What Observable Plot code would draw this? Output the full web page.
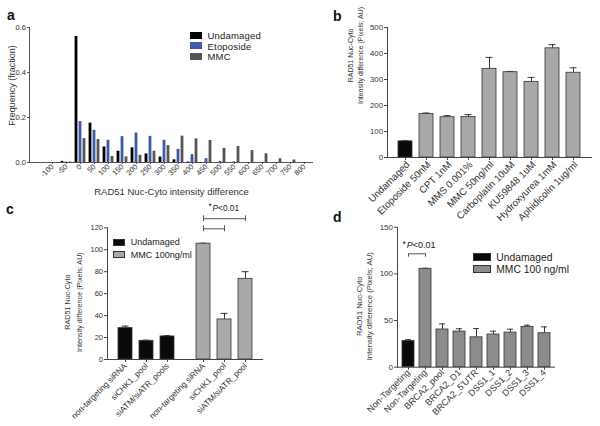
<!DOCTYPE html>
<html>
<head>
<meta charset="utf-8">
<script src="https://cdn.jsdelivr.net/npm/d3@7"></script>
<script src="https://cdn.jsdelivr.net/npm/@observablehq/plot@0.6"></script>
<style>
  body { margin: 0; background: #fff; font-family: "Liberation Sans", Arial, Helvetica, sans-serif; }
  #fig { position: relative; width: 600px; height: 426px; overflow: hidden; background: #fff; }
  .letter { position: absolute; font-weight: bold; font-size: 14px; line-height: 14px; color: #111; }
  .lg-row { position: absolute; display: flex; align-items: center; white-space: nowrap; color: #222; }
  .lg-sw { display: inline-block; box-sizing: border-box; }
</style>
</head>
<body>
<div id="fig"></div>
<script>
// ---------------- Panel a: histogram ----------------
const bins = ["-100","-50","0","50","100","150","200","250","300","350","400","450","500","550","600","650","700","750","800"];
const seriesA = ["Undamaged", "Etoposide", "MMC"];
const colorsA = ["#000000", "#3d5aa8", "#555555"];
const undamagedFreq = [0, 0.005, 0.56, 0.175, 0.069, 0.05, 0.065, 0.038, 0.024, 0.012, 0.002, 0, 0, 0, 0, 0, 0, 0, 0];
const etoposideFreq = [0, 0.002, 0.182, 0.143, 0.099, 0.115, 0.131, 0.116, 0.099, 0.058, 0.035, 0.017, 0.005, 0.003, 0, 0, 0, 0, 0];
const mmcFreq       = [0, 0.002, 0.106, 0.102, 0.027, 0.025, 0.032, 0.05, 0.075, 0.117, 0.105, 0.098, 0.063, 0.071, 0.053, 0.039, 0.017, 0.011, 0];
const yTicksA = [0, 0.2, 0.4, 0.6];
const xTitleA = "RAD51 Nuc-Cyto intensity difference";
const yTitleA = "Frequency (fraction)";

// ---------------- Panel b ----------------
const treatments = ["Undamaged","Etoposide 50nM","CPT 1nM","MMS 0.001%","MMC 50ng/ml","Carboplatin 10uM","KU59848 1uM","Hydroxyurea 1mM","Aphidicolin 1ug/ml"];
const bMean = [62, 167, 155, 156, 341, 328, 291, 420, 326];
const bErr  = [2, 4, 6, 9, 44, 3, 17, 14, 19];
const yTicksB = [0, 100, 200, 300, 400, 500];

// ---------------- Panel c ----------------
const cGroups = ["Undamaged", "MMC 100ng/ml"];
const cTreatment = ["Undamaged","Undamaged","Undamaged","MMC 100ng/ml","MMC 100ng/ml","MMC 100ng/ml"];
const cSiRNA = ["non-targeting siRNA","siCHK1_pool","siATM/siATR_pools","non-targeting siRNA","siCHK1_pool","siATM/siATR_pool"];
const cMean = [28.6, 17, 21, 105.5, 36.5, 73.5];
const cErr  = [1.8, 0.6, 0.7, 0.5, 5.5, 6.5];
const yTicksC = [0, 20, 40, 60, 80, 100, 120];

// ---------------- Panel d ----------------
const dGroups = ["Undamaged", "MMC 100 ng/ml"];
const dLabels = ["Non-Targeting","Non-Targeting","BRCA2_pool","BRCA2_D1","BRCA2_5'UTR","DSS1_1","DSS1_2","DSS1_3","DSS1_4"];
const dTreatment = ["Undamaged","MMC 100 ng/ml","MMC 100 ng/ml","MMC 100 ng/ml","MMC 100 ng/ml","MMC 100 ng/ml","MMC 100 ng/ml","MMC 100 ng/ml","MMC 100 ng/ml"];
const dMean = [28, 105.4, 40.4, 38.2, 32, 35, 37.1, 43.2, 36.4];
const dErr  = [1.5, 0.6, 6, 3, 9.4, 3.6, 3.6, 1.8, 6.8];
const yTicksD = [0, 50, 100, 150];

const yTitleRAD = "RAD51 Nuc-Cyto\nIntensity difference (Pixels; AU)";

// ---------------- helpers ----------------
const FONT = "'Liberation Sans', Arial, Helvetica, sans-serif";
const fig = document.getElementById("fig");
function place(el, left, top) {
  el.style.position = "absolute";
  el.style.left = left + "px";
  el.style.top = top + "px";
  fig.appendChild(el);
}
function baseStyle(fs) {
  return {fontFamily: FONT, fontSize: fs + "px", color: "#333", background: "transparent", overflow: "visible"};
}
function letter(t, left, baseline) {
  const d = document.createElement("div");
  d.className = "letter";
  d.textContent = t;
  d.style.left = left + "px";
  d.style.top = (baseline - 11.9) + "px";
  fig.appendChild(d);
}
function legend(names, colors, o) {
  names.forEach((n, i) => {
    const row = document.createElement("div");
    row.className = "lg-row";
    row.style.left = o.left + "px";
    row.style.top = (o.top + i * o.rowH) + "px";
    row.style.height = o.rowH + "px";
    row.style.fontSize = o.fontSize + "px";
    if (o.spacing) row.style.letterSpacing = o.spacing + "px";
    const sw = document.createElement("span");
    sw.className = "lg-sw";
    sw.style.width = o.swW + "px";
    sw.style.height = o.swH + "px";
    sw.style.background = colors[i];
    if (o.border) sw.style.border = o.border;
    sw.style.marginRight = o.gap + "px";
    row.appendChild(sw);
    row.appendChild(document.createTextNode(n));
    fig.appendChild(row);
  });
}
// "*P<0.01" with italic P, anchored at a band position
function sigText(data, opts, fs) {
  const {dx0, ...rest} = opts;
  const common = {...rest, textAnchor: "start", lineAnchor: "middle", fontSize: fs, fill: "#222"};
  return [
    Plot.text(data, {...common, text: () => "*", dx: dx0, dy: -1.5}),
    Plot.text(data, {...common, text: () => "P", fontStyle: "italic", dx: dx0 + 0.48 * fs}),
    Plot.text(data, {...common, text: () => "<0.01", dx: dx0 + 1.15 * fs})
  ];
}
function yTitle(text, o) {
  return Plot.text([text], {frameAnchor: "left", rotate: -90, textAnchor: "middle", lineAnchor: "middle", fill: "#333", ...o});
}

// ---------------- Panel a plot ----------------
const freqA = [undamagedFreq, etoposideFreq, mmcFreq];
const aRows = [];
seriesA.forEach((s, k) => bins.forEach((b, i) => aRows.push({series: s, bin: b, freq: freqA[k][i]})));
const barShiftA = [-4, 0, 4];

const plotA = Plot.plot({
  width: 320, height: 205,
  marginLeft: 29, marginRight: 7, marginTop: 27, marginBottom: 43,
  style: baseStyle(7.5),
  x: {domain: bins, range: [38.7, 317.3], padding: 0},
  y: {domain: [0, 0.6]},
  color: {domain: seriesA, range: colorsA},
  marks: [
    ...seriesA.map((s, k) => Plot.barY(aRows, {filter: d => d.series === s, x: "bin", y: "freq", fill: "series", insetLeft: 5.6, insetRight: 5.6, dx: barShiftA[k]})),
    Plot.ruleY([0], {stroke: "#555"}),
    Plot.frame({anchor: "left", stroke: "#555"}),
    Plot.axisX({tickRotate: -45, tickSize: 2, tickPadding: 1, label: null, stroke: "#555", fontSize: 7.5}),
    Plot.axisY({ticks: yTicksA, tickFormat: ".1f", tickSize: 2, tickPadding: 1.5, label: null, stroke: "#555"}),
    Plot.text([xTitleA], {frameAnchor: "bottom", textAnchor: "middle", lineAnchor: "middle", dy: 29, fontSize: 9.5, fill: "#333"}),
    yTitle(yTitleA, {dx: -17, dy: -9.5, fontSize: 9})
  ]
});
place(plotA, 0, 0);

// ---------------- Panel b plot ----------------
const bRows = treatments.map((t, i) => ({treatment: t, mean: bMean[i], err: bErr[i], kind: t === "Undamaged" ? "Undamaged" : "Damaged"}));
const plotB = Plot.plot({
  width: 300, height: 210,
  marginLeft: 87, marginRight: 8, marginTop: 27, marginBottom: 53,
  style: baseStyle(7.8),
  x: {domain: treatments, paddingInner: 0.33, paddingOuter: 0.33},
  y: {domain: [0, 500]},
  color: {domain: ["Undamaged", "Damaged"], range: ["#0a0a0a", "#a8a8a8"]},
  marks: [
    Plot.ruleX(bRows, {x: "treatment", y1: "mean", y2: d => d.mean + d.err, stroke: "#222", strokeWidth: 0.9}),
    Plot.tickY(bRows, {x: "treatment", y: d => d.mean + d.err, insetLeft: 3.5, insetRight: 3.5, stroke: "#222", strokeWidth: 0.9}),
    Plot.barY(bRows, {x: "treatment", y: "mean", fill: "kind", stroke: "#333", strokeWidth: 0.8}),
    Plot.ruleY([0], {stroke: "#444"}),
    Plot.frame({anchor: "left", stroke: "#444"}),
    Plot.axisX({tickSize: 3, tickFormat: () => "", label: null, stroke: "#444"}),
    Plot.axisX({tickRotate: -45, tickSize: 0, tickPadding: 4, fontSize: 9.8, dx: 2.5, dy: 1.5, label: null}),
    Plot.axisY({ticks: yTicksB, tickSize: 3, tickPadding: 1.5, label: null, stroke: "#444"}),
    yTitle(yTitleRAD, {dx: -33, dy: -37, fontSize: 7, lineHeight: 1.43})
  ]
});
place(plotB, 300, 0);

// ---------------- Panel c plot ----------------
const cRows = cTreatment.map((g, i) => ({
  group: g,
  slot: "s" + cTreatment.slice(0, i).filter(x => x === g).length,
  siRNA: cSiRNA[i], mean: cMean[i], err: cErr[i]
}));
const cComparisons = [
  {group: "MMC 100ng/ml", from: "s0", to: "s1"},
  {group: "MMC 100ng/ml", from: "s0", to: "s2"}
];
const cBracketLevel = [119.1, 128.3];
cComparisons.forEach((c, i) => c.level = cBracketLevel[i]);
const cEnds = cComparisons.flatMap(c => [{group: c.group, slot: c.from, level: c.level}, {group: c.group, slot: c.to, level: c.level}]);

const plotC = Plot.plot({
  width: 300, height: 216,
  marginLeft: 106, marginRight: 37, marginTop: 17.3, marginBottom: 67,
  style: baseStyle(7.5),
  fx: {domain: cGroups, padding: 0, axis: null, label: null},
  x: {domain: ["s0", "s1", "s2"], paddingInner: 0.32, paddingOuter: 0.44},
  y: {domain: [0, 120]},
  color: {domain: cGroups, range: ["#0a0a0a", "#a9a9a9"]},
  marks: [
    Plot.ruleX(cRows, {fx: "group", x: "slot", y1: "mean", y2: d => d.mean + d.err, stroke: "#222", strokeWidth: 0.9}),
    Plot.tickY(cRows, {fx: "group", x: "slot", y: d => d.mean + d.err, insetLeft: 3.5, insetRight: 3.5, stroke: "#222", strokeWidth: 0.9}),
    Plot.barY(cRows, {fx: "group", x: "slot", y: "mean", fill: "group", stroke: "#333", strokeWidth: 0.8}),
    Plot.ruleY([0], {stroke: "#444"}),
    Plot.frame({anchor: "left", facet: "super", stroke: "#444"}),
    Plot.axisX({tickSize: 3, tickFormat: () => "", label: null, stroke: "#444"}),
    Plot.axisY({ticks: yTicksC, tickSize: 3, tickPadding: 1.5, label: null, stroke: "#444"}),
    Plot.text(cRows, {fx: "group", x: "slot", text: "siRNA", frameAnchor: "bottom", rotate: -45, textAnchor: "end", dx: 2, dy: 7, fontSize: 8.3, fill: "#333"}),
    Plot.link(cComparisons, {fx: "group", x1: "from", x2: "to", y1: "level", y2: "level", stroke: "#444", strokeWidth: 0.9}),
    Plot.ruleX(cEnds, {fx: "group", x: "slot", y1: d => d.level - 2.7, y2: d => d.level + 2.7, stroke: "#444", strokeWidth: 0.9}),
    ...sigText([{group: "MMC 100ng/ml", slot: "s1"}], {fx: "group", x: "slot", y: 137.9, dx0: -16}, 8.3),
    yTitle(yTitleRAD, {facet: "super", dx: -35, dy: 8.5, fontSize: 7.2, lineHeight: 1.63})
  ]
});
place(plotC, 0, 210);

// ---------------- Panel d plot ----------------
const dRows = dLabels.map((l, i) => ({key: String(i), label: l, treatment: dTreatment[i], mean: dMean[i], err: dErr[i]}));
const dKeys = dRows.map(d => d.key);
const dComparison = [{from: "0", to: "1", level: 121.5}];
const dEnds = [{key: "0", level: 121.5}, {key: "1", level: 121.5}];

const plotD = Plot.plot({
  width: 300, height: 216,
  marginLeft: 97, marginRight: 45, marginTop: 16.7, marginBottom: 59.3,
  style: baseStyle(8),
  x: {domain: dKeys, paddingInner: 0.3, paddingOuter: 0.15},
  y: {domain: [0, 150]},
  color: {domain: dGroups, range: ["#0a0a0a", "#8c8c8c"]},
  marks: [
    Plot.ruleX(dRows, {x: "key", y1: "mean", y2: d => d.mean + d.err, stroke: "#222", strokeWidth: 0.9}),
    Plot.tickY(dRows, {x: "key", y: d => d.mean + d.err, insetLeft: 3, insetRight: 3, stroke: "#222", strokeWidth: 0.9}),
    Plot.barY(dRows, {x: "key", y: "mean", fill: "treatment", stroke: "#333", strokeWidth: 0.8}),
    Plot.ruleY([0], {stroke: "#444"}),
    Plot.frame({anchor: "left", stroke: "#444"}),
    Plot.axisX({tickRotate: -45, tickSize: 3, tickPadding: 1, tickFormat: k => dLabels[+k], fontSize: 9, label: null, stroke: "#444"}),
    Plot.axisY({ticks: yTicksD, tickSize: 3, tickPadding: 1.5, label: null, stroke: "#444"}),
    yTitle(yTitleRAD, {dx: -33.7, dy: 9, fontSize: 7.8, lineHeight: 1.28}),
    Plot.link(dComparison, {x1: "from", x2: "to", y1: "level", y2: "level", stroke: "#444", strokeWidth: 0.9}),
    Plot.ruleX(dEnds, {x: "key", y1: d => d.level - 3.6, y2: "level", stroke: "#444", strokeWidth: 0.9}),
    ...sigText([{key: "0"}], {x: "key", y: 130.4, dx0: -6}, 9)
  ]
});
place(plotD, 300, 210);

// ---------------- legends & panel letters ----------------
legend(seriesA, colorsA, {left: 190, top: 29.8, rowH: 10.8, swW: 12, swH: 7, gap: 5.5, fontSize: 9.5, spacing: 0.2});
legend(cGroups, ["#0a0a0a", "#a9a9a9"], {left: 113.3, top: 236.1, rowH: 12.4, swW: 12, swH: 6.5, gap: 5.5, fontSize: 9, border: "0.8px solid #333"});
legend(dGroups, ["#0a0a0a", "#8c8c8c"], {left: 473, top: 251.6, rowH: 11.7, swW: 18, swH: 8, gap: 5.3, fontSize: 10.3, border: "0.8px solid #333"});

letter("a", 7, 20);
letter("b", 333, 20.7);
letter("c", 6, 214);
letter("d", 333, 221.7);
</script>
</body>
</html>
